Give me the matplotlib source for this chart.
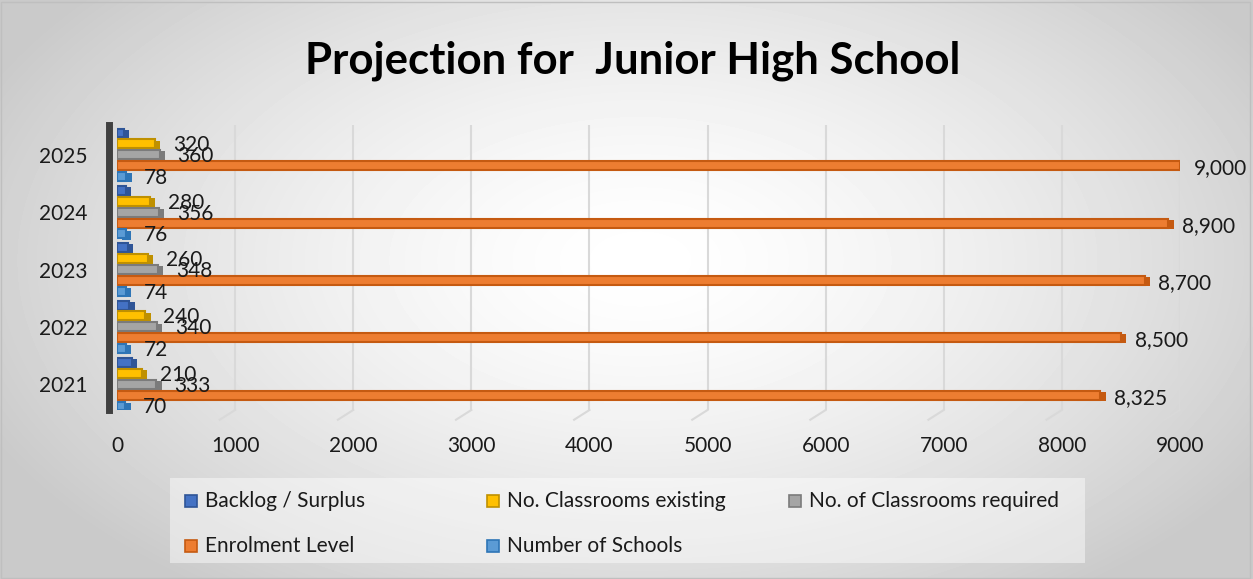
import numpy as np
import matplotlib
matplotlib.use("Agg")
import matplotlib.pyplot as plt
from matplotlib.patches import Rectangle

plt.rcParams['font.family'] = ['Lato', 'DejaVu Sans']

years = ['2021', '2022', '2023', '2024', '2025']
backlog = [123, 105, 90, 72, 58]
existing = [210, 240, 260, 280, 320]
required = [333, 340, 348, 356, 360]
enrolment = [8325, 8500, 8700, 8900, 9000]
schools = [70, 72, 74, 76, 78]

series = [
    ('Backlog / Surplus', backlog, '#4472C4', '#2F5597', None),
    ('No. Classrooms existing', existing, '#FFC000', '#BF9000', 'int'),
    ('No. of Classrooms required', required, '#A5A5A5', '#7B7B7B', 'int'),
    ('Enrolment Level', enrolment, '#ED7D31', '#C55A11', 'comma'),
    ('Number of Schools', schools, '#5B9BD5', '#2E75B6', 'int'),
]
offsets = [2, 1, 0, -1, -2]

W, H = 1253, 579
fig = plt.figure(figsize=(W / 100, H / 100), dpi=100)

# radial grey background
bg = fig.add_axes([0, 0, 1, 1], zorder=-10)
yy, xx = np.mgrid[0:H, 0:W]
r = np.sqrt(((xx - 640) / 700.0) ** 2 + ((yy - 260) / 400.0) ** 2)
bg.imshow(np.clip(1 - 0.2 * r ** 1.5, 0.79, 1), cmap='gray', vmin=0, vmax=1,
          aspect='auto', extent=[0, 1, 0, 1])
bg.set_axis_off()
bg.add_patch(Rectangle((0.001, 0.002), 0.997, 0.995, fill=False,
                       edgecolor='#bfbfbf', lw=1, transform=bg.transAxes))

ax = fig.add_axes([117 / W, 1 - 410 / H, 1063 / W, 285 / H])
ax.set_facecolor('none')

y = np.arange(len(years))
h = 0.19
depth = 45  # fake 3d depth, data units
for (name, vals, col, edge, fmt), off in zip(series, offsets):
    pos = y + off * h
    # shadow / side of the 3d bar
    ax.barh(pos - 0.02, vals, left=depth, height=h * 0.82, color=edge,
            lw=0, zorder=2)
    ax.barh(pos, vals, height=h * 0.82, color=col, edgecolor=edge, lw=1.5, zorder=3)
    if fmt is None:
        continue
    for p, v in zip(pos, vals):
        txt = '{:,}'.format(v)
        if fmt == 'comma':
            ax.annotate(txt, (v, p), xytext=(10, -2), textcoords='offset points',
                        va='center', ha='left', fontsize=15, color='#1a1a1a')
        else:
            ax.annotate(txt, (v, p), xytext=(13, -1), textcoords='offset points',
                        va='center', ha='left', fontsize=15, color='#1a1a1a', zorder=5)

ax.set_xlim(0, 9000)
ax.set_ylim(-0.45, 4.52)
ax.set_xticks(range(0, 9001, 1000))
ax.set_yticks(y)
ax.set_yticklabels(years)
ax.tick_params(axis='both', length=0, labelsize=15, colors='#1a1a1a')
ax.tick_params(axis='x', pad=19)
ax.tick_params(axis='y', pad=15)
ax.grid(axis='x', color='#d9d9d9', lw=1.5, zorder=0)
# little floor feet of the gridlines
for gx in range(1000, 9001, 1000):
    ax.plot([gx, gx - 130], [-0.45, -0.62], color='#d9d9d9', lw=1.5, clip_on=False, zorder=0)
for s in ['top', 'right', 'bottom']:
    ax.spines[s].set_visible(False)
ax.spines['left'].set_position(('outward', 6))
ax.spines['left'].set_linewidth(5)
ax.spines['left'].set_color('#404040')

fig.text(0.505, 0.895, 'Projection for  Junior High School', ha='center', va='center',
         fontsize=31.5, fontweight='bold', color='#000000')

# legend, laid out like the excel one (equal width columns, row-wise)
fig.patches.append(Rectangle((170 / W, 1 - 563 / H), 915 / W, 85 / H, transform=fig.transFigure,
                             facecolor='white', alpha=0.45, edgecolor='none', zorder=-5))
col_x = [185, 487, 789]
row_y = [501, 546]
for i, (name, _, col, edge, _) in enumerate(series):
    cx = col_x[i % 3]
    cy = row_y[i // 3]
    fig.patches.append(Rectangle((cx / W, 1 - (cy + 6) / H), 12 / W, 12 / H,
                                 transform=fig.transFigure, facecolor=col,
                                 edgecolor=edge, lw=1.2))
    fig.text((cx + 20) / W, 1 - cy / H, name, ha='left', va='center',
             fontsize=15, color='#1a1a1a')

fig.savefig('out.png', dpi=100)
